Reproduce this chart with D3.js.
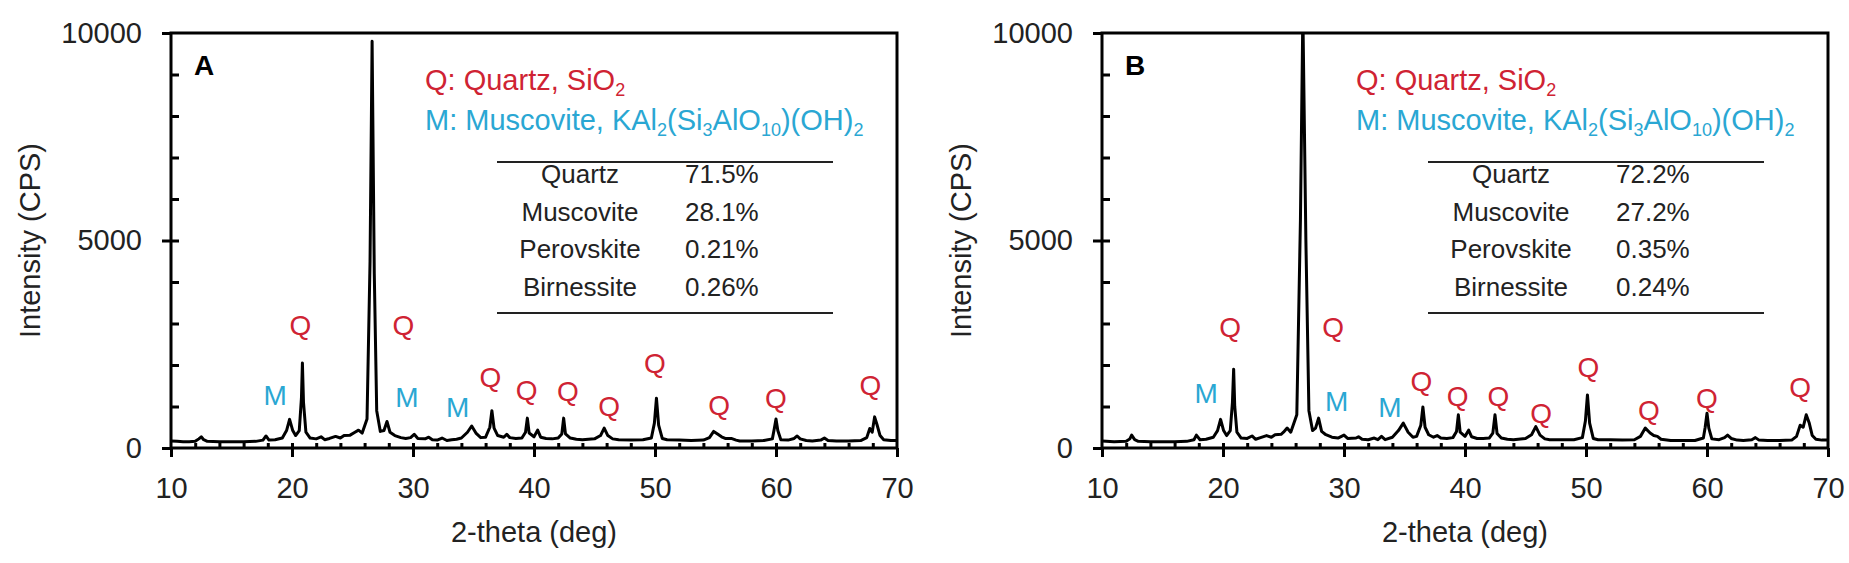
<!DOCTYPE html>
<html>
<head>
    <meta charset="utf-8">
    <title>XRD patterns A and B</title>
    <script src="https://d3js.org/d3.v7.min.js"></script>
    <style>
        body { margin: 0; background: #fff; }
        svg { display: block; font-family: "Liberation Sans", Arial, sans-serif; }
        .tick text { font-size: 29px; fill: #222; }
        .tick line { stroke: #000; stroke-width: 3px; }
        .axis-title { font-size: 29px; fill: #222; }
        .trace { fill: none; stroke: #000; stroke-width: 3px; stroke-linejoin: round; }
    </style>
</head>
<body>
<div id="chart"></div>
<script>
    // axis ticks
    const xTicks = [10, 20, 30, 40, 50, 60, 70];
    const xMinorTicks = [12, 14, 16, 18, 20, 22, 24, 26, 28, 30, 32, 34, 36, 38, 40, 42, 44, 46, 48, 50, 52, 54, 56, 58, 60, 62, 64, 66, 68];
    const yTicks = [0, 5000, 10000];
    const yMinorTicks = [1000, 2000, 3000, 4000, 5000, 6000, 7000, 8000, 9000];

    // panel A trace (2-theta, CPS)
    const thetaA = [10.0, 10.5, 11.0, 11.5, 12.0, 12.3, 12.5, 12.7, 13.0, 14.0, 15.0, 16.0, 17.0, 17.6, 17.85, 18.1, 18.6, 19.2, 19.55, 19.8,
        20.05, 20.3, 20.6, 20.78, 20.86, 20.95, 21.15, 21.5, 22.0, 22.4, 22.7, 23.1, 23.6, 24.0, 24.3, 24.8, 25.2, 25.5, 25.8, 26.2,
        26.45, 26.62, 26.8, 27.0, 27.3, 27.6, 27.85, 28.1, 28.5, 29.0, 29.4, 29.8, 30.1, 30.4, 31.0, 31.3, 31.6, 32.0, 32.4, 32.8,
        33.2, 33.6, 34.0, 34.5, 34.85, 35.2, 35.6, 36.0, 36.35, 36.52, 36.7, 37.0, 37.5, 37.75, 38.0, 38.5, 39.0, 39.3, 39.45, 39.6,
        40.0, 40.3, 40.55, 41.0, 41.5, 42.0, 42.3, 42.45, 42.6, 43.0, 43.5, 44.0, 44.5, 45.0, 45.5, 45.8, 46.1, 46.5, 47.0, 48.0,
        49.0, 49.7, 49.95, 50.12, 50.3, 50.6, 51.0, 52.0, 53.0, 54.0, 54.5, 54.85, 55.2, 55.5, 55.8, 56.3, 56.7, 57.0, 58.0, 59.0,
        59.7, 59.85, 60.0, 60.15, 60.4, 61.0, 61.5, 61.75, 62.0, 62.5, 63.0, 63.7, 64.0, 64.3, 65.0, 66.0, 67.0, 67.5, 67.75, 67.95,
        68.15, 68.35, 68.6, 68.9, 69.5, 70.0];
    const cpsA = [170, 160, 150, 150, 160, 220, 270, 200, 160, 150, 150, 150, 160, 190, 290, 190, 200, 240, 420, 690,
        430, 300, 420, 1200, 2050, 1100, 380, 240, 220, 270, 200, 230, 280, 240, 300, 310, 380, 430, 360, 700,
        4500, 9800, 4200, 900, 400, 420, 640, 380, 300, 250, 230, 250, 330, 230, 220, 260, 200, 190, 240, 180,
        200, 210, 240, 380, 530, 360, 250, 260, 500, 900, 480, 300, 260, 330, 250, 230, 240, 380, 720, 360,
        270, 430, 260, 230, 220, 240, 340, 720, 340, 240, 210, 200, 210, 220, 300, 480, 300, 220, 200, 190,
        200, 240, 600, 1200, 550, 230, 200, 190, 180, 190, 250, 400, 330, 270, 230, 230, 190, 170, 170, 180,
        220, 450, 700, 420, 200, 190, 230, 290, 220, 180, 170, 190, 240, 180, 170, 170, 180, 250, 470, 380,
        750, 560, 300, 200, 180, 180];

    // panel B trace (2-theta, CPS)
    const thetaB = [10.0, 11.0, 12.0, 12.3, 12.45, 12.7, 13.0, 14.0, 15.0, 16.0, 17.0, 17.6, 17.8, 18.1, 18.6, 19.2, 19.55, 19.8, 20.05, 20.3,
        20.6, 20.78, 20.88, 20.97, 21.15, 21.5, 22.0, 22.4, 22.7, 23.1, 23.6, 24.0, 24.3, 24.8, 25.0, 25.3, 25.6, 26.1, 26.4, 26.6,
        26.85, 27.1, 27.4, 27.65, 27.9, 28.15, 28.5, 29.0, 29.5, 30.0, 30.3, 31.0, 31.2, 31.5, 32.0, 32.5, 32.8, 33.1, 33.4, 34.0,
        34.5, 34.9, 35.3, 35.7, 36.0, 36.35, 36.52, 36.7, 37.0, 37.4, 37.7, 38.0, 38.5, 39.0, 39.3, 39.45, 39.6, 40.0, 40.3, 40.55,
        41.0, 41.5, 42.0, 42.3, 42.48, 42.65, 43.0, 43.5, 44.0, 45.0, 45.5, 45.85, 46.2, 46.6, 47.0, 48.0, 49.0, 49.7, 49.95, 50.12,
        50.3, 50.6, 51.0, 52.0, 53.0, 54.0, 54.5, 54.9, 55.3, 55.6, 55.9, 56.2, 57.0, 58.0, 59.0, 59.7, 59.85, 60.0, 60.15, 60.4,
        61.0, 61.45, 61.7, 62.0, 62.5, 63.0, 63.7, 64.0, 64.3, 65.0, 66.0, 67.0, 67.4, 67.7, 67.95, 68.2, 68.45, 68.7, 69.0, 69.5,
        70.0];
    const cpsB = [170, 150, 160, 220, 310, 200, 160, 150, 150, 150, 160, 200, 310, 200, 210, 260, 420, 690, 420, 300,
        420, 1100, 1900, 1000, 380, 240, 230, 290, 210, 250, 300, 260, 320, 330, 380, 480, 380, 800, 5500, 10500,
        5000, 900, 420, 480, 720, 400, 320, 260, 240, 310, 230, 240, 270, 210, 200, 240, 200, 280, 200, 260,
        420, 600, 380, 260, 280, 550, 990, 500, 320, 260, 300, 240, 230, 250, 400, 800, 380, 280, 430, 270,
        230, 230, 240, 360, 800, 350, 240, 210, 200, 230, 320, 515, 310, 220, 200, 200, 200, 250, 650, 1280,
        600, 230, 200, 200, 190, 200, 280, 480, 360, 300, 280, 210, 180, 180, 180, 240, 500, 840, 480, 220,
        200, 250, 310, 230, 190, 180, 200, 250, 190, 180, 180, 190, 280, 550, 500, 800, 600, 300, 210, 190,
        190];

    // peak labels: letter, 2-theta, CPS at label centre
    const labelTextA = ["M", "Q", "Q", "M", "M", "Q", "Q", "Q", "Q", "Q", "Q", "Q", "Q"];
    const labelThetaA = [18.6, 20.7, 29.2, 29.5, 33.7, 36.4, 39.4, 42.8, 46.2, 50.0, 55.3, 60.0, 67.8];
    const labelCpsA = [1280, 2960, 2960, 1230, 990, 1710, 1400, 1380, 1010, 2050, 1035, 1200, 1520];

    const labelTextB = ["M", "Q", "Q", "M", "M", "Q", "Q", "Q", "Q", "Q", "Q", "Q", "Q"];
    const labelThetaB = [18.6, 20.6, 29.1, 29.4, 33.8, 36.4, 39.4, 42.75, 46.3, 50.2, 55.2, 60.0, 67.7];
    const labelCpsB = [1320, 2925, 2925, 1140, 985, 1620, 1260, 1260, 835, 1955, 915, 1200, 1460];

    // phase table
    const phases = ["Quartz", "Muscovite", "Perovskite", "Birnessite"];
    const fractionsA = ["71.5%", "28.1%", "0.21%", "0.26%"];
    const fractionsB = ["72.2%", "27.2%", "0.35%", "0.24%"];

    const red = "#cf2333";
    const cyan = "#2aa7d3";

    const width = 1849, height = 563;
    const plotW = 726, plotTop = 33, plotBottom = 448;

    const svg = d3.select("#chart").append("svg")
        .attr("width", width)
        .attr("height", height);

    function drawPanel(id, left, letter, theta, cps, labText, labTheta, labCps, fractions) {
        const g = svg.append("g").attr("transform", `translate(${left},0)`);

        const x = d3.scaleLinear().domain([10, 70]).range([0, plotW]);
        const y = d3.scaleLinear().domain([0, 10000]).range([plotBottom, plotTop]);

        g.append("clipPath").attr("id", "clip" + id)
            .append("rect")
            .attr("x", 0).attr("y", plotTop)
            .attr("width", plotW).attr("height", plotBottom - plotTop);

        // trace
        const line = d3.line().x((d, i) => x(theta[i])).y(d => y(d));
        g.append("path")
            .attr("class", "trace")
            .attr("clip-path", `url(#clip${id})`)
            .attr("d", line(cps));

        // frame
        g.append("rect")
            .attr("x", 0).attr("y", plotTop)
            .attr("width", plotW).attr("height", plotBottom - plotTop)
            .attr("fill", "none").attr("stroke", "#000").attr("stroke-width", 3);

        // y axis: labelled ticks outside, minor ticks inside
        g.append("g")
            .call(d3.axisLeft(y).tickValues(yTicks).tickSize(9).tickPadding(20).tickFormat(d3.format("d")))
            .call(a => a.select(".domain").remove());
        g.append("g")
            .call(d3.axisRight(y).tickValues(yMinorTicks).tickSize(8).tickFormat(""))
            .call(a => a.select(".domain").remove());

        // x axis
        g.append("g")
            .attr("transform", `translate(0,${plotBottom})`)
            .call(d3.axisBottom(x).tickValues(xTicks).tickSize(9).tickPadding(20))
            .call(a => a.select(".domain").remove());
        g.append("g")
            .attr("transform", `translate(0,${plotBottom})`)
            .call(d3.axisTop(x).tickValues(xMinorTicks).tickSize(5).tickFormat(""))
            .call(a => a.select(".domain").remove());

        g.selectAll(".tick text").attr("font-family", null);

        // axis titles
        g.append("text")
            .attr("class", "axis-title")
            .attr("x", plotW / 2).attr("y", 542)
            .attr("text-anchor", "middle")
            .text("2-theta (deg)");
        g.append("text")
            .attr("class", "axis-title")
            .attr("transform", `translate(-131,${(plotTop + plotBottom) / 2}) rotate(-90)`)
            .attr("text-anchor", "middle")
            .text("Intensity (CPS)");

        // panel letter
        g.append("text")
            .attr("x", 23).attr("y", 75)
            .attr("font-size", 28).attr("font-weight", "bold")
            .text(letter);

        // peak labels
        g.selectAll(".peak-label")
            .data(labText)
            .enter().append("text")
            .attr("class", "peak-label")
            .attr("x", (d, i) => x(labTheta[i]))
            .attr("y", (d, i) => y(labCps[i]))
            .attr("dy", "0.36em")
            .attr("text-anchor", "middle")
            .attr("font-size", 28)
            .attr("fill", d => d === "Q" ? red : cyan)
            .text(d => d);

        // legend
        const q = g.append("text")
            .attr("x", 254).attr("y", 90)
            .attr("font-size", 29).attr("fill", red);
        q.append("tspan").text("Q: Quartz, SiO");
        q.append("tspan").attr("font-size", 18).attr("dy", 6).text("2");

        const m = g.append("text")
            .attr("x", 254).attr("y", 130)
            .attr("font-size", 29).attr("fill", cyan);
        const parts = [["M: Muscovite, KAl", false], ["2", true], ["(Si", false], ["3", true],
            ["AlO", false], ["10", true], [")(OH)", false], ["2", true]];
        parts.forEach((p, i) => {
            const prevSub = i > 0 && parts[i - 1][1];
            const t = m.append("tspan").text(p[0]);
            if (p[1]) t.attr("font-size", 18).attr("dy", 6);
            else if (prevSub) t.attr("dy", -6);
        });

        // table
        g.append("line")
            .attr("x1", 326).attr("x2", 662).attr("y1", 162).attr("y2", 162)
            .attr("stroke", "#222").attr("stroke-width", 2);
        g.append("line")
            .attr("x1", 326).attr("x2", 662).attr("y1", 313).attr("y2", 313)
            .attr("stroke", "#222").attr("stroke-width", 2);

        const rowY = d3.scalePoint().domain(phases).range([183, 296]);
        g.selectAll(".phase")
            .data(phases)
            .enter().append("text")
            .attr("class", "phase")
            .attr("x", 409).attr("y", d => rowY(d))
            .attr("text-anchor", "middle")
            .attr("font-size", 26).attr("fill", "#222")
            .text(d => d);
        g.selectAll(".frac")
            .data(fractions)
            .enter().append("text")
            .attr("class", "frac")
            .attr("x", 514).attr("y", (d, i) => rowY(phases[i]))
            .attr("font-size", 26).attr("fill", "#222")
            .text(d => d);
    }

    drawPanel("A", 171, "A", thetaA, cpsA, labelTextA, labelThetaA, labelCpsA, fractionsA);
    drawPanel("B", 1102, "B", thetaB, cpsB, labelTextB, labelThetaB, labelCpsB, fractionsB);
</script>
</body>
</html>
